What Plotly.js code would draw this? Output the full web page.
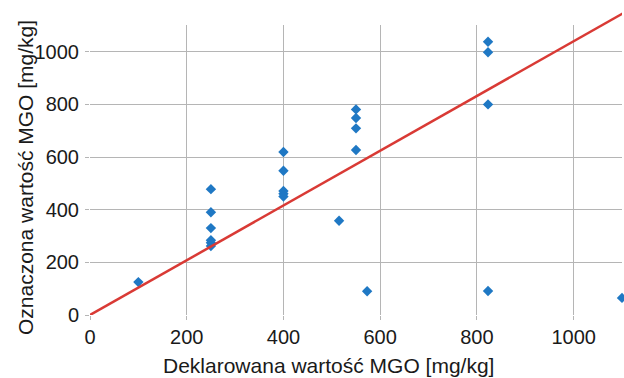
<!DOCTYPE html>
<html>
<head>
<meta charset="utf-8">
<script src="https://cdn.plot.ly/plotly-3.0.1.min.js"></script>
<style>html,body{margin:0;padding:0;background:#fff;}#chart{width:624px;height:378px;}</style>
</head>
<body>
<div id="chart"></div>
<script>
// Declared MGO (x) vs measured MGO (y), mg/kg
const declaredMGO = [100, 250, 250, 250, 250, 250, 250, 400, 400, 400, 400, 400, 515, 550, 550, 550, 550, 573, 823, 823, 823, 823, 1100];
const measuredMGO = [125, 478, 390, 330, 284, 274, 262, 619, 548, 471, 461, 450, 358, 781, 748, 709, 627, 90, 1038, 998, 800, 91, 65];
// Reference line
const lineX = [0, 1110];
const lineY = [0, 1154];
const xTicks = [0, 200, 400, 600, 800, 1000];
const yTicks = [0, 200, 400, 600, 800, 1000];
const xTitle = 'Deklarowana wartość MGO [mg/kg]';
const yTitle = 'Oznaczona wartość MGO [mg/kg]';

const W = 624, H = 378;
const mT = 12, mB = 63, mL = 90, mR = 2;
const yMax = 1100;
const plotH = H - mT - mB;
const plotW = W - mL - mR;
const mainTopPx = 25.4;           // top of gridded area
const domTop = (H - mB - mainTopPx) / plotH;
const y2Max = yMax / domTop;      // same scale, taller area for the line

const traces = [
  {
    x: lineX, y: lineY, type: 'scatter', mode: 'lines',
    xaxis: 'x2', yaxis: 'y2',
    line: {color: '#d93a35', width: 2.5},
    hoverinfo: 'skip'
  },
  {
    x: declaredMGO, y: measuredMGO, type: 'scatter', mode: 'markers',
    marker: {symbol: 'diamond', size: 8, color: '#1f78c4'},
    cliponaxis: false
  }
];

const tickFont = {size: 20};
const titleFont = {size: 21, color: '#1a1a1a'};

const layout = {
  width: W, height: H,
  margin: {l: mL, r: mR, t: mT, b: mB},
  paper_bgcolor: '#fff', plot_bgcolor: 'rgba(0,0,0,0)',
  showlegend: false,
  font: {family: 'Liberation Sans, Arial, sans-serif', color: '#1a1a1a', size: 20},
  xaxis: {
    range: [0, 1100], tickvals: xTicks, ticktext: xTicks.map(String),
    showgrid: true, gridcolor: '#b5b5b5', gridwidth: 1,
    zeroline: false, showline: false,
    ticks: 'outside', ticklen: 4, tickcolor: '#b5b5b5',
    tickfont: tickFont
  },
  yaxis: {
    domain: [0, domTop],
    range: [0, yMax], tickvals: yTicks, ticktext: yTicks.map(String),
    showgrid: true, gridcolor: '#b5b5b5', gridwidth: 1,
    zeroline: false, showline: false,
    ticks: 'outside', ticklen: 4, tickcolor: '#b5b5b5',
    tickfont: tickFont, ticklabelstandoff: 2
  },
  xaxis2: {
    anchor: 'y2', range: [0, 1100], visible: false, overlaying: false
  },
  yaxis2: {
    anchor: 'x2', domain: [0, 1], range: [0, y2Max], visible: false
  },
  annotations: [
    {
      text: xTitle, font: titleFont, showarrow: false,
      xref: 'paper', yref: 'paper',
      x: (328 - mL) / plotW, y: 0, xanchor: 'center', yanchor: 'top',
      yshift: -37
    },
    {
      text: yTitle, font: titleFont, showarrow: false, textangle: -90,
      xref: 'paper', yref: 'paper',
      x: 0, y: (H - mB - 178) / plotH, xanchor: 'center', yanchor: 'middle',
      xshift: 25 - mL
    }
  ]
};

Plotly.newPlot('chart', traces, layout, {staticPlot: true, displayModeBar: false});
</script>
</body>
</html>
